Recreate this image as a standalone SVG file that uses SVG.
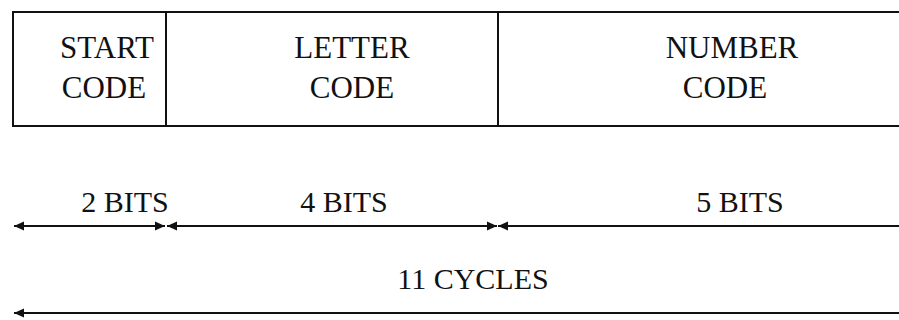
<svg xmlns="http://www.w3.org/2000/svg" width="899" height="320" viewBox="0 0 899 320">
  <style>
    .t { font-family: "Liberation Serif", "Times New Roman", serif; font-size: 31px; fill: #111; text-anchor: middle; }
    .b { font-family: "Liberation Serif", "Times New Roman", serif; font-size: 30px; fill: #111; text-anchor: middle; }
    .box { fill: none; stroke: #111; stroke-width: 2; }
    .dim { stroke: #111; stroke-width: 2; fill: none; }
  </style>
  <defs>
    <marker id="ah" viewBox="0 0 10 10" refX="10" refY="5" markerUnits="userSpaceOnUse" markerWidth="10" markerHeight="10" orient="auto-start-reverse">
      <path d="M0,0.5 L10,5 L0,9.5 z" fill="#111"/>
    </marker>
  </defs>
  <rect width="899" height="320" fill="#fff"/>
  <g id="frame">
    <path class="box" d="M899,12 H13 V126 H899"/>
  </g>
  <g id="start-code">
    <line class="box" x1="166" y1="12" x2="166" y2="126"/>
    <text class="t" x="107" y="58">START</text>
    <text class="t" x="104" y="98">CODE</text>
  </g>
  <g id="letter-code">
    <line class="box" x1="498" y1="12" x2="498" y2="126"/>
    <text class="t" x="352" y="58">LETTER</text>
    <text class="t" x="352" y="98">CODE</text>
  </g>
  <g id="number-code">
    <text class="t" x="732" y="58">NUMBER</text>
    <text class="t" x="725" y="98">CODE</text>
  </g>
  <g id="connectors">
    <line class="dim" x1="14" y1="226" x2="165" y2="226" marker-start="url(#ah)" marker-end="url(#ah)"/>
    <line class="dim" x1="167" y1="226" x2="497" y2="226" marker-start="url(#ah)" marker-end="url(#ah)"/>
    <line class="dim" x1="498" y1="226" x2="899" y2="226" marker-start="url(#ah)"/>
    <line class="dim" x1="14" y1="313" x2="899" y2="313" marker-start="url(#ah)"/>
  </g>
  <g id="labels">
    <text class="b" x="125" y="212">2 BITS</text>
    <text class="b" x="344" y="212">4 BITS</text>
    <text class="b" x="740" y="212">5 BITS</text>
    <text class="b" x="473" y="289">11 CYCLES</text>
  </g>
</svg>
